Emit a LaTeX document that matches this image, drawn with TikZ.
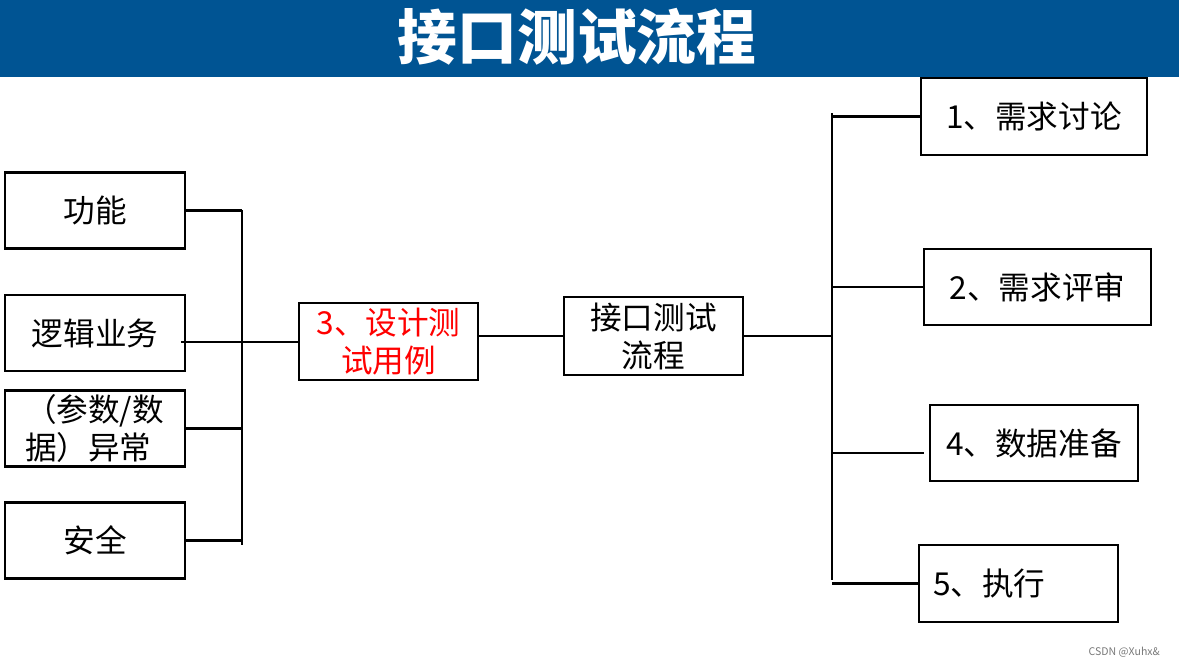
\documentclass[tikz,border=0pt]{standalone}
\usepackage{fontspec}
\setmainfont{Noto Sans CJK SC}
\definecolor{titleblue}{RGB}{0,84,147}
\definecolor{markgray}{RGB}{120,120,120}
\tikzset{
  box/.style={draw,line width=1.2pt,minimum height=1.52cm,inner sep=0pt,
    font=\fontsize{18}{21.6}\selectfont},
  link/.style={line width=1.2pt}
}
\begin{document}
\begin{tikzpicture}[x=0.02cm,y=-0.02cm]
\useasboundingbox (0,0) rectangle (1179,666);
\fill[titleblue] (0,0) rectangle (1179,77);
\node[text=white,font=\fontsize{34}{40}\selectfont\bfseries] (title) at (577,37) {接口测试流程};
\node[box,minimum width=3.6cm] (func) at (95,210.5) {功能};
\node[box,minimum width=3.6cm] (logic) at (95,333) {逻辑业务};
\node[box,minimum width=3.6cm,text width=2.8cm,align=left] (abn) at (95,428.5) {（参数/数\\据）异常};
\node[box,minimum width=3.6cm] (safe) at (95,540.5) {安全};
\node[box,minimum width=3.58cm,minimum height=1.54cm,align=center,text=red] (design) at (388.5,341.5) {3、设计测\\试用例};
\node[box,minimum width=3.58cm,minimum height=1.56cm,align=center] (flow) at (653.5,336) {接口测试\\流程};
\node[box,minimum width=4.52cm,minimum height=1.54cm] (req) at (1034,116.5) {1、需求讨论};
\node[box,minimum width=4.54cm] (review) at (1037.5,287) {2、需求评审};
\node[box,minimum width=4.16cm] (data) at (1034,443) {4、数据准备};
\node[box,minimum width=3.98cm,minimum height=1.54cm,text width=3.42cm,align=left] (exec) at (1018.5,583.5) {5、执行};
\node[text=markgray,font=\fontsize{6}{7}\selectfont,anchor=east] (mark) at (1166,652) {CSDN @Xuhx\&};
\coordinate (lt) at (242,210);
\coordinate (lb) at (242,545);
\coordinate (ls) at (181,342);
\coordinate (rt) at (832,113);
\coordinate (rb) at (832,580);
\coordinate (de) at (924,453);
\draw[link] (lt) -- (lb);
\draw[link] (func.east) -- (func.east -| lt);
\draw[link] (ls) -- (ls -| design.west);
\draw[link] (abn.east) -- (abn.east -| lt);
\draw[link] (safe.east) -- (safe.east -| lt);
\draw[link] (design.east |- flow.west) -- (flow.west);
\draw[link] (rt) -- (rb);
\draw[link] (flow.east) -- (flow.east -| rt);
\draw[link] (req.west -| rt) -- (req.west);
\draw[link] (review.west -| rt) -- (review.west);
\draw[link] (de -| rt) -- (de);
\draw[link] (exec.west -| rt) -- (exec.west);
\end{tikzpicture}
\end{document}
